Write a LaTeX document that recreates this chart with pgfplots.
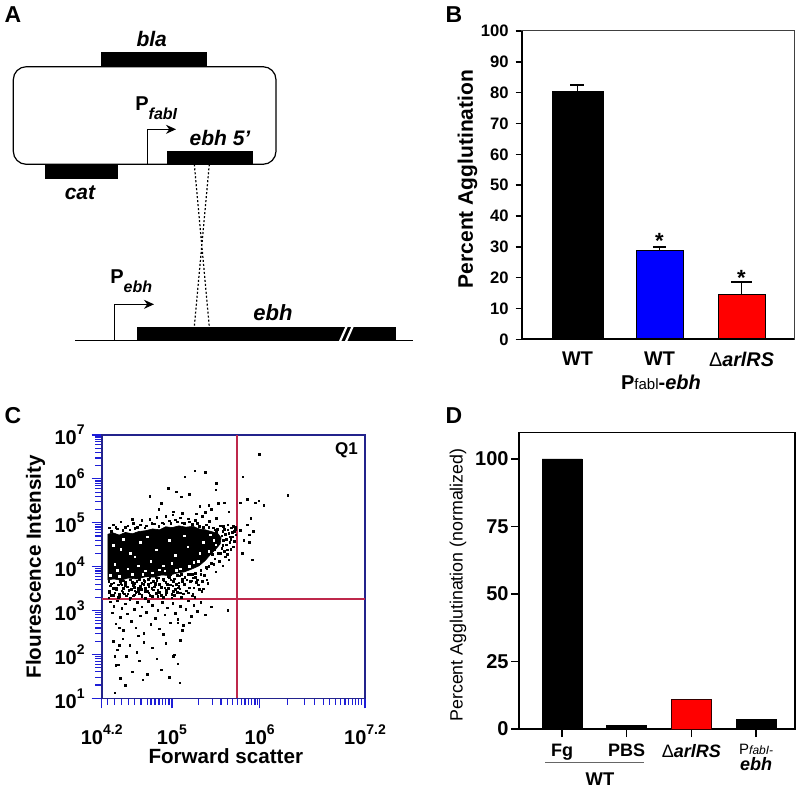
\documentclass[border=0pt]{standalone}
\usepackage{fontspec}
\setmainfont{Liberation Sans}
\usepackage{pgfplots}
\pgfplotsset{compat=1.18}
\usetikzlibrary{arrows.meta}
\definecolor{cblue}{RGB}{0,0,255}
\definecolor{cred}{RGB}{255,0,0}
\definecolor{facsframe}{RGB}{35,35,140}
\definecolor{facstick}{RGB}{30,30,215}
\definecolor{gate}{RGB}{190,40,75}
\newcommand{\fs}[1]{\fontsize{#1pt}{#1pt}\selectfont}
\newcommand{\pw}[1]{10\raisebox{0.5em}{\fs{7}#1}}
\begin{document}
\begin{tikzpicture}
%================ canvas (pixel coordinates, y downwards)
\begin{axis}[at={(0pt,0pt)},anchor=south west,scale only axis,width=399.5pt,height=394.5pt,
  xmin=0,xmax=799,ymin=0,ymax=789,y dir=reverse,hide axis,clip=false]
 \addplot[draw=none,forget plot] coordinates {(0,0) (799,789)};
 \node[font=\fs{11.5}\bfseries] at (13,15) {A};
 \node[font=\fs{11.5}\bfseries] at (454,15) {B};
 \node[font=\fs{11.5}\bfseries] at (13,416) {C};
 \node[font=\fs{11.5}\bfseries] at (454,416) {D};
 % ---- Panel A schematic
 \draw[line width=0.6pt,rounded corners=6.5pt] (13.3,66.7) rectangle (276,164.3);
 \fill (100.7,51.7) rectangle (207,66.7);
 \fill (45.3,164.3) rectangle (118,179);
 \fill (166.7,150.7) rectangle (253.3,164.3);
 \draw[line width=0.6pt,-{Stealth[length=5pt,width=4.5pt]}] (147.3,164.3) -- (147.3,129.3) -- (176,129.3);
 \node[font=\fs{10.5}\bfseries\itshape] at (151.7,39.3) {bla};
 \node[font=\fs{10.5}\bfseries\itshape] at (80,192.7) {cat};
 \node[font=\fs{10.5}\bfseries\itshape] at (220,137.7) {ebh 5’};
 \node[anchor=base west,inner sep=0pt] at (135,110) {{\fs{10}\bfseries P}\raisebox{-4.5pt}{\fs{8}\bfseries\itshape fabI}};
 \draw[line width=0.6pt,dash pattern=on 1pt off 1pt] (194.3,164.3) -- (209.3,326.7) (209.3,164.3) -- (194.3,326.7);
 \fill (136.7,326.7) rectangle (396,340.7);
 \draw[line width=0.6pt] (75,340.7) -- (412.7,340.7);
 \draw[white,line width=1.1pt] (347.5,324.5) -- (339.5,342.5) (353.5,324.5) -- (345.5,342.5);
 \draw[line width=0.6pt,-{Stealth[length=5pt,width=4.5pt]}] (114.3,340.7) -- (114.3,304.3) -- (154,304.3);
 \node[anchor=base west,inner sep=0pt] at (110,283) {{\fs{10}\bfseries P}\raisebox{-4.5pt}{\fs{8}\bfseries\itshape ebh}};
 \node[font=\fs{11}\bfseries\itshape] at (273,313) {ebh};
 % ---- Panel B labels
 \node[rotate=90,font=\fs{10.5}\bfseries] at (467.5,179) {Percent Agglutination};
 \node[font=\fs{10}\bfseries,inner sep=0pt] at (661,382) {P{\fs{7.5}\mdseries fabl}-\textit{ebh}};
 % ---- Panel C labels
 \node[rotate=90,font=\fs{10.3}\bfseries] at (35.5,566.7) {Flourescence Intensity};
 \node[font=\fs{10.3}\bfseries] at (225.8,756) {Forward scatter};
 % ---- Panel D labels
 \node[rotate=90,font=\fs{8.9}] at (458,585) {Percent Agglutination (normalized)};
 \draw[black!60,line width=0.5pt] (545,762) -- (644,762);
 \node[font=\fs{9.2}\bfseries] at (600,779) {WT};
\end{axis}

%================ Panel B
\begin{axis}[at={(260.85pt,224.85pt)},anchor=south west,scale only axis,width=136.15pt,height=154.15pt,
 xmin=-0.68,xmax=2.64,ymin=0,ymax=100,
 xtick={0,1,2},xticklabels={WT,WT,{{\mdseries Δ}\textit{arlRS}}},
 ytick={0,10,20,30,40,50,60,70,80,90,100},
 tick align=outside,xtick pos=bottom,ytick pos=left,
 major tick length=3pt,
 x tick style={draw=none},
 y tick style={black,line width=0.7pt},
 yticklabel style={font=\fs{8.3}\bfseries},
 xticklabel style={font=\fs{9.9}\bfseries},
 /pgf/number format/assume math mode=true,
 axis line style={line width=0.5pt,black!75},
 clip=false]
 \addplot[ybar,bar shift=0pt,bar width=25.5pt,fill=black,draw=black,
   error bars/.cd,y dir=plus,y explicit,error bar style={line width=0.8pt,black},
   error mark options={rotate=90,line width=0.8pt,black,mark size=3.5pt}]
   coordinates {(0,80.5) +- (0,1.9)};
 \addplot[ybar,bar shift=0pt,bar width=23.5pt,fill=cblue,draw=black,
   error bars/.cd,y dir=plus,y explicit,error bar style={line width=0.8pt,black},
   error mark options={rotate=90,line width=0.8pt,black,mark size=3.25pt}]
   coordinates {(1,28.9) +- (0,1.1)};
 \addplot[ybar,bar shift=0pt,bar width=23.5pt,fill=cred,draw=black,
   error bars/.cd,y dir=plus,y explicit,error bar style={line width=0.8pt,black},
   error mark options={rotate=90,line width=0.8pt,black,mark size=5.25pt}]
   coordinates {(2,14.7) +- (0,3.9)};
 \node[font=\fs{11}\bfseries] at (1,31.8) {*};
 \node[font=\fs{11}\bfseries] at (2,20) {*};
 \draw[line width=0.9pt] (rel axis cs:0,1) -- (rel axis cs:0,0) -- (rel axis cs:1,0);
\end{axis}

%================ Panel C (values are log10 of the data)
\begin{axis}[at={(50.85pt,45.35pt)},anchor=south west,scale only axis,width=131.65pt,height=131.65pt,
 xmin=4.2,xmax=7.2,ymin=1,ymax=7,
 xtick={4.2,5,6,7.2},
 xticklabels={\pw{4.2},\pw{5},\pw{6},\pw{7.2}},
 ytick={1,2,3,4,5,6,7},
 yticklabels={\pw{1},\pw{2},\pw{3},\pw{4},\pw{5},\pw{6},\pw{7}},
 minor xtick={4.268,4.344,4.428,4.503,4.571,4.648,4.724,4.761,4.807,4.853,4.895,4.929,4.967,
   5.300,5.460,5.559,5.635,5.692,5.749,5.795,5.832,5.870,5.908,5.946,5.977,
   6.318,6.508,6.629,6.724,6.800,6.865,6.925,6.971,7.016,7.054,7.092,7.130,7.161},
 minor ytick={1.301,1.477,1.602,1.699,1.778,1.845,1.903,1.954,
   2.301,2.477,2.602,2.699,2.778,2.845,2.903,2.954,
   3.301,3.477,3.602,3.699,3.778,3.845,3.903,3.954,
   4.301,4.477,4.602,4.699,4.778,4.845,4.903,4.954,
   5.301,5.477,5.602,5.699,5.778,5.845,5.903,5.954,
   6.301,6.477,6.602,6.699,6.778,6.845,6.903,6.954},
 tick align=outside,xtick pos=bottom,ytick pos=left,
 major tick length=5pt,minor tick length=3.3pt,
 tick style={facstick,line width=0.6pt},
 axis line style={facsframe,line width=0.8pt},
 ticklabel style={font=\fs{10}\bfseries},
 xticklabel style={yshift=-4.5pt},
 clip=true]
 \addplot[gate,line width=0.7pt] coordinates {(5.74,1) (5.74,7)};
 \addplot[gate,line width=0.7pt] coordinates {(4.2,3.26) (7.2,3.26)};
 % dense core of the population
 \addplot[fill=black,draw=black,line width=0.3pt] coordinates {
 (4.27,4.74) (4.33,4.77) (4.40,4.72) (4.47,4.78) (4.55,4.75) (4.62,4.80) (4.70,4.82) (4.78,4.86)
 (4.86,4.84) (4.93,4.91) (5.00,4.89) (5.08,4.93) (5.16,4.90) (5.24,4.92) (5.31,4.86) (5.38,4.84)
 (5.45,4.80) (5.52,4.76) (5.56,4.66) (5.55,4.52) (5.50,4.40) (5.44,4.28) (5.38,4.14) (5.31,4.02)
 (5.22,3.94) (5.14,3.88) (5.05,3.85) (4.96,3.80) (4.88,3.81) (4.80,3.76) (4.70,3.77) (4.60,3.72)
 (4.50,3.74) (4.42,3.69) (4.34,3.72) (4.27,3.70) (4.27,4.74)};
 % individual events
 \addplot[only marks,mark=square*,mark size=0.4pt,black] coordinates {
 (4.28,3.66) (4.34,3.63) (4.41,3.68) (4.47,3.64) (4.53,3.70) (4.60,3.66) (4.66,3.62) (4.73,3.71)
 (4.79,3.67) (4.85,3.74) (4.91,3.69) (4.97,3.76) (5.03,3.72) (5.09,3.79) (5.15,3.75) (5.21,3.82)
 (5.27,3.85) (5.33,3.92) (5.39,3.98) (5.45,4.08) (5.49,4.18) (5.53,4.30) (5.57,4.42)
 (4.30,3.56) (4.36,3.52) (4.43,3.58) (4.49,3.54) (4.56,3.57) (4.62,3.51) (4.68,3.59) (4.74,3.55)
 (4.81,3.58) (4.88,3.53) (4.95,3.60) (5.01,3.56) (5.08,3.63) (5.14,3.58) (5.21,3.66) (5.29,3.70)
 (4.29,3.44) (4.37,3.47) (4.44,3.42) (4.51,3.46) (4.59,3.41) (4.65,3.48) (4.72,3.43) (4.79,3.47)
 (4.86,3.41) (4.94,3.46) (5.02,3.44) (5.09,3.49) (5.17,3.45) (5.25,3.52)
 (4.31,3.34) (4.40,3.37) (4.48,3.33) (4.57,3.36) (4.66,3.31) (4.75,3.35) (4.84,3.32) (4.93,3.37)
 (5.03,3.34) (5.13,3.38) (5.23,3.33) (5.34,3.44) (5.41,3.62) (5.37,3.80)
 (4.28,3.29) (4.35,3.40) (4.39,3.30) (4.45,3.50) (4.53,3.29) (4.58,3.45) (4.63,3.38) (4.70,3.28)
 (4.77,3.51) (4.82,3.39) (4.90,3.30) (4.96,3.50) (5.00,3.29) (5.06,3.42) (5.11,3.30) (5.19,3.40)
 (5.26,3.30) (5.31,3.48) (4.33,3.50) (4.42,3.62) (4.55,3.64) (4.69,3.66) (4.83,3.69) (4.99,3.70)
 (5.12,3.66) (5.24,3.74) (5.35,3.66) (4.46,3.38) (4.73,3.60) (5.07,3.52)
 (4.29,3.42) (4.31,3.61) (4.33,3.35) (4.35,3.74) (4.37,3.52) (4.40,3.31) (4.41,3.66) (4.43,3.45)
 (4.46,3.80) (4.47,3.57) (4.50,3.38) (4.52,3.70) (4.54,3.48) (4.56,3.33) (4.58,3.62) (4.60,3.77)
 (4.62,3.44) (4.64,3.55) (4.66,3.36) (4.68,3.69) (4.70,3.50) (4.72,3.81) (4.74,3.40) (4.76,3.63)
 (4.78,3.32) (4.80,3.54) (4.82,3.74) (4.84,3.46) (4.86,3.60) (4.88,3.35) (4.90,3.71) (4.92,3.52)
 (4.94,3.42) (4.96,3.78) (4.98,3.58) (5.00,3.37) (5.02,3.66) (5.04,3.48) (5.06,3.80) (5.08,3.55)
 (5.10,3.40) (5.12,3.72) (5.14,3.61) (5.16,3.45) (5.18,3.82) (5.20,3.52) (5.22,3.68) (5.24,3.38)
 (5.27,3.76) (5.30,3.58) (5.33,3.83) (5.36,3.49) (5.40,3.70) (4.32,3.79) (4.39,3.58) (4.45,3.68)
 (4.51,3.82) (4.57,3.53) (4.63,3.71) (4.69,3.43) (4.75,3.76) (4.81,3.62) (4.87,3.84) (4.93,3.64)
 (4.99,3.82) (5.05,3.60) (5.11,3.83) (5.17,3.70) (5.23,3.83) (5.28,3.64)
 (4.29,4.88) (4.33,4.95) (4.38,4.86) (4.42,5.02) (4.47,4.90) (4.52,4.84) (4.56,4.98) (4.61,4.89)
 (4.66,5.05) (4.71,4.93) (4.75,5.08) (4.80,4.97) (4.83,5.12) (4.89,5.00) (4.93,5.15) (4.97,5.04)
 (5.01,5.18) (5.06,5.02) (5.10,5.11) (5.14,4.98) (5.19,5.09) (5.23,4.96) (5.27,5.06) (5.31,4.92)
 (5.35,5.14) (5.39,4.95) (5.43,5.03) (5.47,4.88) (5.51,5.10) (5.55,4.93) (5.02,5.25) (5.12,5.22)
 (5.28,5.20) (5.38,5.24) (4.55,5.08) (4.31,4.81) (4.36,4.90) (4.44,4.83) (4.50,4.93) (4.58,4.87)
 (4.64,4.95) (4.69,4.88) (4.77,4.99) (4.85,4.92) (4.91,4.97) (4.99,4.98) (5.04,5.07) (5.12,5.00)
 (5.20,5.02) (5.29,4.99) (5.36,4.90) (5.42,4.89) (5.49,4.84)
 (5.47,4.62) (5.49,4.40) (5.51,4.78) (5.53,4.55) (5.55,4.30) (5.57,4.70) (5.58,4.48) (5.60,4.85)
 (5.62,4.62) (5.63,4.38) (5.65,4.76) (5.66,4.55) (5.68,4.88) (5.69,4.68) (5.71,4.80) (5.72,4.90)
 (5.73,4.72) (5.70,4.45) (5.61,4.22) (5.54,4.12) (5.48,4.05) (5.52,4.85) (5.59,4.92) (5.64,4.95)
 (5.67,4.62) (5.46,4.28) (5.42,4.00) (5.40,3.95) (5.58,4.02) (5.50,3.88) (5.59,4.60) (5.61,4.74)
 (5.62,4.50) (5.64,4.84) (5.66,4.68) (5.67,4.40) (5.69,4.78) (5.71,4.58) (5.72,4.84) (5.73,4.86)
 (5.60,4.35) (5.63,4.28) (5.65,4.15) (5.58,4.80) (5.70,4.92)
 (5.78,4.82) (5.82,4.60) (5.86,4.95) (5.80,4.30) (5.88,4.72)
 (4.30,3.20) (4.32,2.95) (4.34,3.10) (4.36,2.70) (4.38,3.22) (4.41,2.85) (4.43,3.05) (4.45,2.55)
 (4.47,3.15) (4.49,2.92) (4.52,3.24) (4.54,2.75) (4.57,3.02) (4.59,2.60) (4.61,3.18) (4.64,2.88)
 (4.66,3.08) (4.68,2.48) (4.71,2.96) (4.73,3.21) (4.76,2.68) (4.78,3.12) (4.81,2.82) (4.84,3.00)
 (4.86,2.58) (4.89,3.19) (4.92,2.90) (4.95,3.06) (4.98,2.72) (5.01,3.16) (5.04,2.94) (5.07,2.80)
 (5.10,3.10) (5.13,2.66) (5.16,3.02) (5.19,3.22) (5.22,2.86) (5.25,3.12) (5.29,2.98) (5.33,3.18)
 (5.38,2.90) (5.45,3.08) (5.64,3.00) (4.90,2.45) (5.12,2.55) (4.40,2.60) (4.62,2.42) (5.20,2.72)
 (5.07,2.72)
 (4.33,2.30) (4.36,1.75) (4.38,2.10) (4.41,1.45) (4.44,2.35) (4.48,1.95) (4.52,2.20) (4.55,1.60)
 (4.60,2.05) (4.63,1.85) (4.68,2.28) (4.72,1.55) (4.78,2.15) (4.83,1.90) (4.88,1.65) (4.93,2.25)
 (4.97,1.48) (5.02,1.95) (5.09,1.35) (5.07,1.78) (4.35,1.12) (4.47,1.30) (5.10,2.32) (4.35,1.95)
 (4.40,2.20) (4.67,1.42) (4.39,1.76) (5.03,1.99)
 (4.88,5.44) (4.96,5.78) (5.11,5.59) (5.26,6.18) (5.32,5.37) (5.51,5.90) (5.53,5.44) (5.20,5.65)
 (5.42,5.40) (5.50,5.75) (5.45,5.30) (5.60,5.45) (5.65,5.25) (5.05,5.70) (4.85,5.30) (4.75,5.60)
 (5.15,6.05) (5.38,6.15)
 (6.00,6.56) (5.81,6.05) (6.32,5.62) (5.99,5.50) (5.86,5.53) (5.78,5.45) (5.95,5.45) (6.05,5.40)
 (5.90,5.10) (5.93,4.80) (5.92,4.15) (5.88,4.55)};
 \addplot[only marks,mark=square*,mark size=0.4pt,white] coordinates {
 (4.35,4.05) (4.42,4.40) (4.50,3.95) (4.58,4.22) (4.64,4.55) (4.70,3.90) (4.76,4.12) (4.82,4.38)
 (4.90,4.02) (4.97,4.60) (5.04,4.25) (5.10,3.95) (5.18,4.45) (5.25,4.10) (5.32,4.30) (4.45,4.62)
 (4.38,3.92) (4.62,4.02) (4.86,3.93) (5.00,4.08) (4.53,4.30) (4.72,4.68) (5.14,4.70) (5.36,4.55)
 (4.33,4.48) (4.30,3.80) (4.40,3.78) (4.55,3.82) (4.67,3.83) (4.78,3.86) (4.92,3.90) (5.05,3.92)
 (5.20,4.00) (5.30,4.12) (5.42,4.35) (5.48,4.60) (5.44,4.72) (5.50,4.50)};
 \node[font=\fs{8.5}\bfseries] at (6.99,6.66) {Q1};
\end{axis}

%================ Panel D
\begin{axis}[at={(259.5pt,30pt)},anchor=south west,scale only axis,width=138pt,height=148.15pt,
 xmin=-0.665,xmax=3.6,ymin=0,ymax=109.7,
 xtick={0,1,2,3},
 xticklabels={Fg,PBS,{{\mdseries Δ}\textit{arlRS}},{{\fs{7.5}\mdseries P{\fs{6}\itshape fabI-}}\\[-1pt]{\itshape ebh}}},
 ytick={0,25,50,75,100},
 tick align=outside,xtick pos=bottom,ytick pos=left,
 major tick length=4pt,
 tick style={black,line width=0.7pt},
 yticklabel style={font=\fs{10}\bfseries,inner sep=1pt},
 xticklabel style={font=\fs{9}\bfseries,align=center,anchor=north},
 /pgf/number format/assume math mode=true,
 axis line style={line width=0.6pt},
 clip=false]
 \addplot[ybar,bar shift=0pt,bar width=20pt,fill=black,draw=black] coordinates {(0,100) (1,1.2) (3,3.7)};
 \addplot[ybar,bar shift=0pt,bar width=20pt,fill=cred,draw=black!80!red] coordinates {(2,11.1)};
\end{axis}
\pgfresetboundingbox
\path[use as bounding box] (0pt,0pt) rectangle (399.5pt,394.5pt);
\end{tikzpicture}
\end{document}
